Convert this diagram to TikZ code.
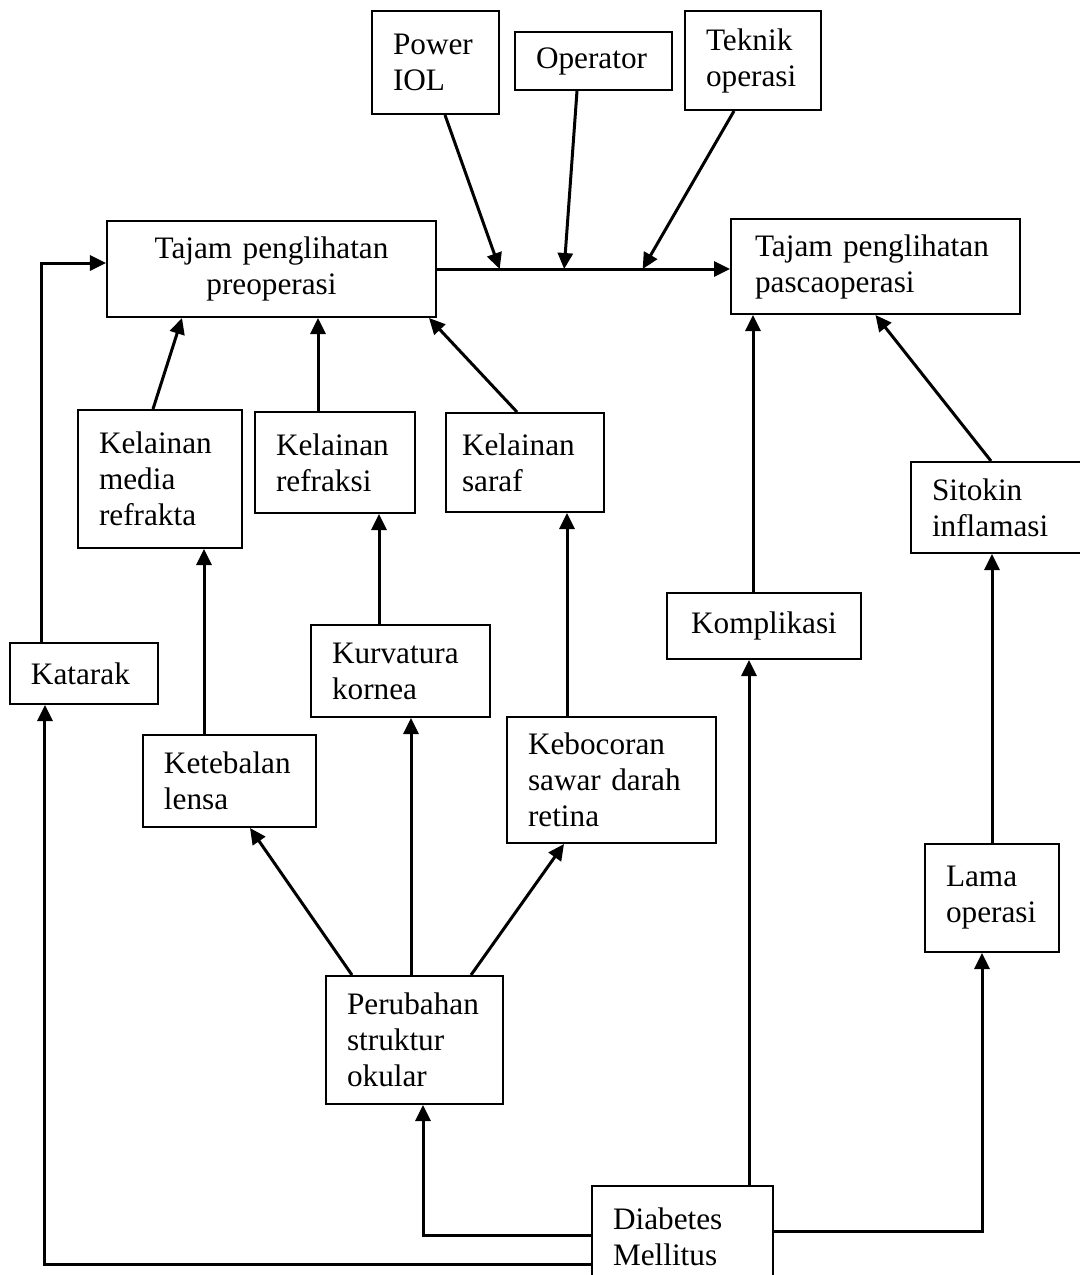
\documentclass[tikz,border=0pt]{standalone}
\usepackage{fontspec}
\setmainfont{Liberation Serif}
\usepackage{tikz}
\usetikzlibrary{arrows.meta}
\tikzset{
  var/.style={draw, line width=0.8pt, rectangle, inner xsep=8.4pt, inner ysep=0pt, align=left, font=\fontsize{12.5}{14.4}\selectfont},
  link/.style={line width=1.2pt, -{Triangle[length=6.4pt, width=6pt]}},
  wire/.style={line width=1.2pt}
}

\begin{document}
\begin{tikzpicture}[x=0.4pt, y=-0.4pt]
        \useasboundingbox (0,0) rectangle (1080,1275);
        \node[var, minimum height=41.2pt, text width=34pt] (pow) at (435.5,62.5) {Power\\IOL} ; %
        \node[var, minimum height=23.2pt, text width=46pt] (opr) at (593.5,61) {Operator} ; %
        \node[var, minimum height=39.6pt, text width=37.6pt] (tek) at (753,60.5) {Teknik\\operasi} ; %
        \node[var, minimum height=38.4pt, text width=114.8pt, align=center] (pre) at (271.5,269) {Tajam penglihatan\\preoperasi} ; %
        \node[var, minimum height=38pt, inner xsep=9.6pt, text width=96.4pt] (pasca) at (875.5,266.5) {Tajam penglihatan\\pascaoperasi} ; %
        \node[var, minimum height=55.2pt, text width=48.8pt] (media) at (160,479) {Kelainan\\media\\refrakta} ; %
        \node[var, minimum height=40.4pt, text width=47.2pt] (refr) at (335,462.5) {Kelainan\\refraksi} ; %
        \node[var, minimum height=39.6pt, inner xsep=6.4pt, text width=50.4pt] (saraf) at (525,462.5) {Kelainan\\saraf} ; %
        \node[var, minimum height=24.4pt, text width=42.4pt] (kat) at (84,673.5) {Katarak} ; %
        \node[var, minimum height=36.8pt, text width=52.4pt] (lensa) at (229.5,781) {Ketebalan\\lensa} ; %
        \node[var, minimum height=36.8pt, text width=54.8pt] (korn) at (400.5,671) {Kurvatura\\kornea} ; %
        \node[var, minimum height=50.4pt, text width=66.8pt] (bocor) at (611.5,780) {Kebocoran\\sawar darah\\retina} ; %
        \node[var, minimum height=51.2pt, text width=54pt] (ubah) at (414.5,1040) {Perubahan\\struktur\\okular} ; %
        \node[var, minimum height=40.4pt, text width=55.6pt] (dm) at (682.5,1236.5) {Diabetes\\Mellitus} ; %
        \node[var, minimum height=26.4pt, text width=60.8pt, align=center] (komp) at (764,626) {Komplikasi} ; %
        \node[var, minimum height=36.4pt, text width=52.8pt] (sit) at (998,507.5) {Sitokin\\inflamasi} ; %
        \node[var, minimum height=43.2pt, text width=36.8pt] (lama) at (992,898) {Lama\\operasi} ; %

        % pre -> pasca, with the three operative factors
        \draw[link] (pre.east) -- (pre.east -| pasca.west)
          coordinate[pos=0.214] (t1) coordinate[pos=0.434] (t2) coordinate[pos=0.702] (t3) ; %
        \draw[link] ([xshift=3.8pt]pow.south) -- (t1) ; %
        \draw[link] ([xshift=-6.6pt]opr.south) -- (t2) ; %
        \draw[link] ([xshift=-7.6pt]tek.south) -- (t3) ; %

        % into pre
        \draw[link] ([xshift=-16.8pt]kat.north) |- ([yshift=2.4pt]pre.west) ; %
        \draw[link] ([xshift=-2.8pt]media.north) -- ([xshift=-35.8pt]pre.south) ; %
        \draw[link] ([xshift=-6.8pt]refr.north) -- ([xshift=-6.8pt]refr.north |- pre.south) ; %
        \draw[link] ([xshift=-3.2pt]saraf.north) -- ([xshift=-3.2pt]pre.south east) ; %
        \draw[link] ([xshift=-10.2pt]lensa.north) -- ([xshift=-10.2pt]lensa.north |- media.south) ; %
        \draw[link] ([xshift=-8.6pt]korn.north) -- ([xshift=-8.6pt]korn.north |- refr.south) ; %
        \draw[link] ([xshift=-17.8pt]bocor.north) -- ([xshift=-17.8pt]bocor.north |- saraf.south) ; %

        % ocular structure
        \draw[link] ([xshift=-25pt]ubah.north) -- ([xshift=8.2pt]lensa.south) ; %
        \draw[link] ([xshift=-1.4pt]ubah.north) -- ([xshift=-1.4pt]ubah.north |- korn.south) ; %
        \draw[link] ([xshift=22.6pt]ubah.north) -- ([xshift=-19pt]bocor.south) ; %

        % into pasca
        \draw[link] ([xshift=-4.4pt]komp.north) -- ([xshift=-4.4pt]komp.north |- pasca.south) ; %
        \draw[link] ([xshift=-2.8pt]sit.north) -- (pasca.south) ; %
        \draw[link] (lama.north) -- (lama.north |- sit.south) ; %

        % from diabetes
        \draw[link] ([xshift=26.6pt]dm.north) -- ([xshift=26.6pt]dm.north |- komp.south) ; %
        \draw[link] ([yshift=2.2pt]dm.east) -| ([xshift=-4pt]lama.south) ; %
        \draw[link] ([yshift=0.6pt]dm.west) -| ([xshift=3.4pt]ubah.south) ; %
        \draw[link] ([yshift=-11pt]dm.west) -| ([xshift=-15.6pt]kat.south) ; %
\end{tikzpicture}
\end{document}
